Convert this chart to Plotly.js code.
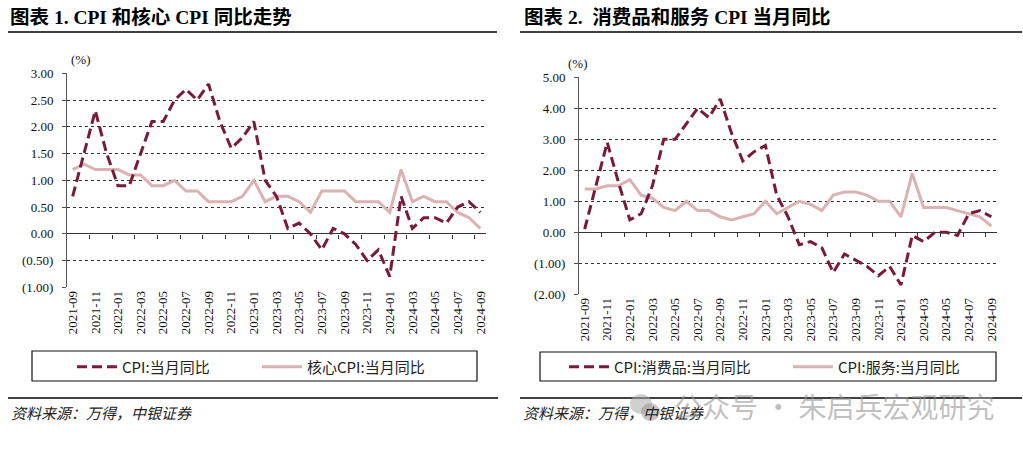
<!DOCTYPE html>
<html>
<head>
<meta charset="utf-8">
<script src="https://cdn.plot.ly/plotly-3.0.1.min.js"></script>
<style>
  html, body { margin: 0; padding: 0; background: #fff; }
  #chart { width: 1023px; height: 451px; }
</style>
</head>
<body>
<div id="chart"></div>
<script>
// ── Data ─────────────────────────────────────
const months = [
  "2021-09", "2021-10", "2021-11", "2021-12",
  "2022-01", "2022-02", "2022-03", "2022-04", "2022-05", "2022-06",
  "2022-07", "2022-08", "2022-09", "2022-10", "2022-11", "2022-12",
  "2023-01", "2023-02", "2023-03", "2023-04", "2023-05", "2023-06",
  "2023-07", "2023-08", "2023-09", "2023-10", "2023-11", "2023-12",
  "2024-01", "2024-02", "2024-03", "2024-04", "2024-05", "2024-06",
  "2024-07", "2024-08", "2024-09",
];

// chart 1
const cpiYoy = [
  0.7, 1.5, 2.3, 1.5, 0.9, 0.9, 1.5, 2.1, 2.1, 2.5, 2.7, 2.5, 2.8, 2.1, 1.6,
  1.8, 2.1, 1.0, 0.7, 0.1, 0.2, 0.0, -0.3, 0.1, 0.0, -0.2, -0.5, -0.3, -0.8,
  0.7, 0.1, 0.3, 0.3, 0.2, 0.5, 0.6, 0.4,
];
const coreCpiYoy = [
  1.2, 1.3, 1.2, 1.2, 1.2, 1.1, 1.1, 0.9, 0.9, 1.0, 0.8, 0.8, 0.6, 0.6, 0.6,
  0.7, 1.0, 0.6, 0.7, 0.7, 0.6, 0.4, 0.8, 0.8, 0.8, 0.6, 0.6, 0.6, 0.4, 1.2,
  0.6, 0.7, 0.6, 0.6, 0.4, 0.3, 0.1,
];

// chart 2
const goodsCpiYoy = [
  0.1, 1.5, 2.9, 1.6, 0.4, 0.6, 1.5, 3.0, 3.0, 3.5, 4.0, 3.7, 4.3, 3.2, 2.3,
  2.6, 2.8, 1.2, 0.5, -0.4, -0.3, -0.5, -1.3, -0.7, -0.9, -1.1, -1.4, -1.1,
  -1.7, -0.1, -0.3, 0.0, 0.0, -0.1, 0.6, 0.7, 0.5,
];
const servicesCpiYoy = [
  1.4, 1.4, 1.5, 1.5, 1.7, 1.2, 1.1, 0.8, 0.7, 1.0, 0.7, 0.7, 0.5, 0.4, 0.5,
  0.6, 1.0, 0.6, 0.8, 1.0, 0.9, 0.7, 1.2, 1.3, 1.3, 1.2, 1.0, 1.0, 0.5, 1.9,
  0.8, 0.8, 0.8, 0.7, 0.6, 0.5, 0.2,
];

const leftTicks = [-1, -0.5, 0, 0.5, 1, 1.5, 2, 2.5, 3];
const rightTicks = [-2, -1, 0, 1, 2, 3, 4, 5];

// ── Helpers ──────────────────────────────────
const W = 1023;
const H = 451;
const px = (x) => x / W;
const py = (y) => 1 - y / H;

const fmt = (v) => (v < 0 ? `(${Math.abs(v).toFixed(2)})` : v.toFixed(2));

const SERIF = "Liberation Serif";
const TITLE = "Liberation Serif, Noto Sans CJK SC";
const CJK = "Noto Sans CJK SC";
const DARK = "#7a1a3a";
const PINK = "#dbb2b2";

const labelTicks = months.filter((_, i) => i % 2 === 0);
const boundaryTicks = months
  .map((_, i) => i - 0.5)
  .filter((_, i) => i > 0 && i % 2 === 0);
const xRange = [-0.5, months.length - 0.5];

// plot boxes in pixels
const boxL = { x0: 67, x1: 486, y0: 73.3, y1: 287.3 };
const boxR = { x0: 579, x1: 997, y0: 77.3, y1: 294.3 };

function zeroPos(box, ticks) {
  const lo = ticks[0];
  const hi = ticks[ticks.length - 1];
  const d0 = py(box.y1);
  const d1 = py(box.y0);
  return d0 + ((0 - lo) / (hi - lo)) * (d1 - d0);
}

function catAxis(box) {
  return {
    domain: [px(box.x0), px(box.x1)],
    type: "category",
    range: xRange,
    tickvals: labelTicks,
    ticktext: labelTicks,
    tickangle: -90,
    ticks: "",
    showgrid: false,
    showline: false,
    zeroline: false,
    tickfont: { family: SERIF, size: 13, color: "#111" },
    fixedrange: true,
  };
}

function tickAxis(over, box, ticks) {
  return {
    overlaying: over,
    anchor: "free",
    position: zeroPos(box, ticks),
    range: xRange,
    tickvals: boundaryTicks,
    ticks: "outside",
    ticklen: 4,
    tickcolor: "#333",
    showticklabels: false,
    showgrid: false,
    showline: false,
    zeroline: false,
    fixedrange: true,
  };
}

function valAxis(box, ticks, anchor) {
  return {
    domain: [py(box.y1), py(box.y0)],
    anchor,
    range: [ticks[0], ticks[ticks.length - 1]],
    tickvals: ticks,
    ticktext: ticks.map(fmt),
    showgrid: true,
    griddash: "dot",
    gridcolor: "#333",
    gridwidth: 1,
    zeroline: true,
    zerolinecolor: "#333",
    zerolinewidth: 1,
    showline: true,
    linecolor: "#555",
    linewidth: 1,
    ticks: "outside",
    ticklen: 4,
    tickcolor: "#555",
    ticklabelstandoff: 6,
    tickfont: { family: SERIF, size: 13, color: "#111" },
    fixedrange: true,
  };
}

function legendAt(x) {
  return {
    x: px(x),
    y: py(367),
    xanchor: "left",
    yanchor: "middle",
    orientation: "h",
    bgcolor: "rgba(0,0,0,0)",
    borderwidth: 0,
    itemwidth: 40,
    font: { family: CJK, size: 15, color: "#222" },
  };
}

function rule(x0, x1, y) {
  return {
    type: "line",
    xref: "paper",
    yref: "paper",
    x0: px(x0),
    x1: px(x1),
    y0: py(y),
    y1: py(y),
    line: { color: "#000", width: 1.5 },
  };
}

function rect(x0, x1, y0, y1) {
  return {
    type: "rect",
    xref: "paper",
    yref: "paper",
    x0: px(x0),
    x1: px(x1),
    y0: py(y1),
    y1: py(y0),
    line: { color: "#111", width: 1.2 },
  };
}

function note(x, y, text, font, xanchor) {
  return {
    xref: "paper",
    yref: "paper",
    x: px(x),
    y: py(y),
    xanchor: xanchor || "left",
    yanchor: "middle",
    text,
    showarrow: false,
    font,
  };
}

// ── Traces ───────────────────────────────────
const dashed = { color: DARK, width: 3, dash: "10px,5px" };
const solid = { color: PINK, width: 3 };

const traces = [
  {
    type: "scatter", mode: "lines", name: "核心CPI:当月同比",
    x: months, y: coreCpiYoy, xaxis: "x", yaxis: "y",
    line: solid, legend: "legend2",
  },
  {
    type: "scatter", mode: "lines", name: "CPI:当月同比",
    x: months, y: cpiYoy, xaxis: "x", yaxis: "y",
    line: dashed, legend: "legend",
  },
  {
    type: "scatter", mode: "lines", name: "CPI:服务:当月同比",
    x: months, y: servicesCpiYoy, xaxis: "x2", yaxis: "y2",
    line: solid, legend: "legend4",
  },
  {
    type: "scatter", mode: "lines", name: "CPI:消费品:当月同比",
    x: months, y: goodsCpiYoy, xaxis: "x2", yaxis: "y2",
    line: dashed, legend: "legend3",
  },
  // empty traces so the zero-line tick axes get drawn
  { type: "scatter", x: [], y: [], xaxis: "x3", yaxis: "y", showlegend: false },
  { type: "scatter", x: [], y: [], xaxis: "x4", yaxis: "y2", showlegend: false },
];

// ── Layout ───────────────────────────────────
const layout = {
  width: W,
  height: H,
  margin: { t: 0, r: 0, b: 0, l: 0 },
  font: { family: SERIF, size: 13, color: "#111" },
  paper_bgcolor: "#fff",
  plot_bgcolor: "rgba(0,0,0,0)",
  showlegend: true,
  xaxis: catAxis(boxL),
  yaxis: valAxis(boxL, leftTicks, "x"),
  xaxis2: { ...catAxis(boxR), anchor: "y2" },
  yaxis2: valAxis(boxR, rightTicks, "x2"),
  xaxis3: tickAxis("x", boxL, leftTicks),
  xaxis4: tickAxis("x2", boxR, rightTicks),
  legend: legendAt(72),
  legend2: legendAt(257),
  legend3: legendAt(564),
  legend4: legendAt(788),
  shapes: [
    rule(8, 497, 32),
    rule(520, 1022, 32),
    rule(8, 498, 398),
    rule(520, 1022, 398),
    rect(32, 477, 351, 381),
    rect(540, 996, 352, 381),
    // watermark icon
    {
      type: "circle", xref: "paper", yref: "paper", layer: "above",
      x0: px(630), x1: px(652), y0: py(414), y1: py(394),
      fillcolor: "rgba(170,170,170,0.55)", line: { width: 0 },
    },
    {
      type: "circle", xref: "paper", yref: "paper", layer: "above",
      x0: px(641), x1: px(660), y0: py(421), y1: py(403),
      fillcolor: "rgba(150,150,150,0.55)", line: { width: 0 },
    },
  ],
  annotations: [
    note(8, 17, "<b>图表 1. CPI 和核心 CPI 同比走势</b>",
      { family: TITLE, size: 19.5, color: "#000" }),
    note(522, 17, "<b>图表 2.  消费品和服务 CPI 当月同比</b>",
      { family: TITLE, size: 19.5, color: "#000" }),
    note(81, 59, "(%)", { family: SERIF, size: 13, color: "#111" }, "center"),
    note(578, 64, "(%)", { family: SERIF, size: 13, color: "#111" }, "center"),
    note(9, 412, "<i>资料来源：万得，中银证券</i>",
      { family: CJK, size: 15, color: "#222" }),
    note(521, 412, "<i>资料来源：万得，中银证券</i>",
      { family: CJK, size: 15, color: "#222" }),
    note(672, 406, "公众号 · 朱启兵宏观研究",
      { family: CJK, size: 28, color: "rgba(150,150,150,0.6)" }),
  ],
};

Plotly.newPlot("chart", traces, layout, { displayModeBar: false, staticPlot: true });
</script>
</body>
</html>
